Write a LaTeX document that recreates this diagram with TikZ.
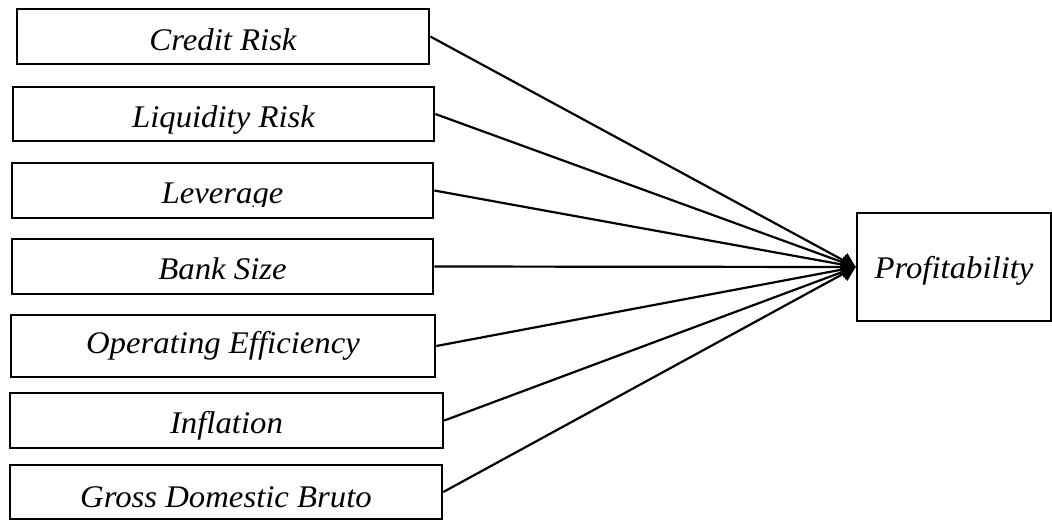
\documentclass[tikz,border=0pt]{standalone}
\usepackage{fontspec}
\setmainfont[FakeStretch=1.04]{Liberation Serif}
\usetikzlibrary{arrows.meta}
\begin{document}
\begin{tikzpicture}[x=1pt,y=-1pt,
  box/.style={draw, line width=2.6pt, inner sep=0pt},
  lbl/.style={font=\fontsize{31.5}{36}\selectfont\itshape, anchor=base, inner sep=0pt},
  link/.style={line width=2.2pt, -{Triangle[length=14pt,width=16pt]}}]
\useasboundingbox (0,0) rectangle (1052,520);
% boxes
\node[box, minimum width=412pt, minimum height=55pt] (b1) at (223,36.5) {};
\node[box, minimum width=421pt, minimum height=54pt] (b2) at (223.5,114) {};
\node[box, minimum width=421pt, minimum height=55pt] (b3) at (222.5,190.5) {};
\node[box, minimum width=421pt, minimum height=55pt] (b4) at (222.5,266.5) {};
\node[box, minimum width=424pt, minimum height=62pt] (b5) at (223,346) {};
\node[box, minimum width=433pt, minimum height=55pt] (b6) at (226.5,420.5) {};
\node[box, minimum width=432pt, minimum height=54pt] (b7) at (226,492) {};
\node[box, minimum width=194pt, minimum height=108pt] (p) at (954,267) {};
% labels
\node[lbl] (t1) at (223,50) {Credit Risk};
\node[lbl] (t2) at (223.5,127) {Liquidity Risk};
\begin{scope}
\clip (12,163) rectangle (433,206);
\node[lbl] (t3) at (222.5,203) {Leverage};
\end{scope}
\node[lbl] (t4) at (222.5,279) {Bank Size};
\node[lbl] (t5) at (223,353) {Operating Efficiency};
\node[lbl] (t6) at (226.5,433) {Inflation};
\node[lbl] (t7) at (226,507) {Gross Domestic Bruto};
\node[lbl] (t8) at (954,278) {Profitability};
% connectors
\foreach \b in {b1,b2,b3,b4,b5,b6,b7}
  \draw[link] (\b.east) -- (p.west);
\end{tikzpicture}
\end{document}
